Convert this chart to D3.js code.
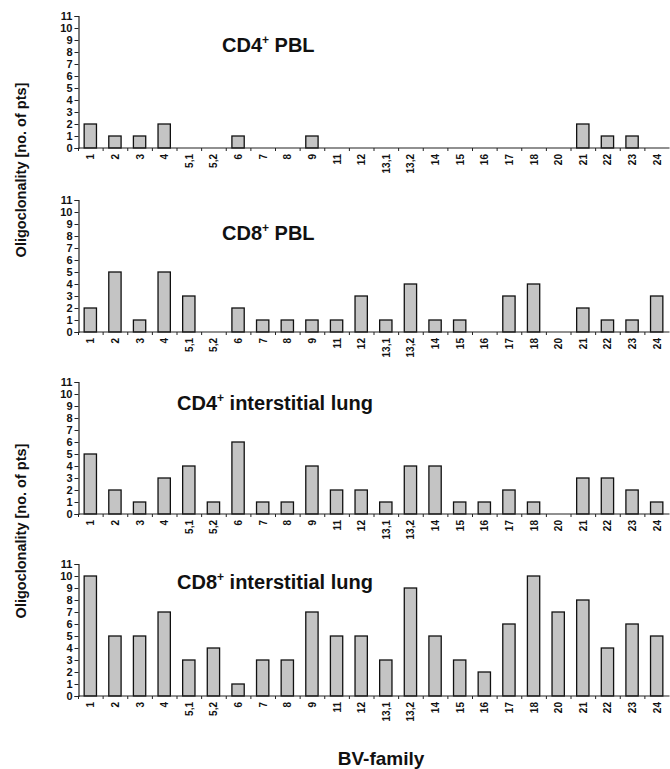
<!DOCTYPE html>
<html>
<head>
<meta charset="utf-8">
<script src="https://cdn.jsdelivr.net/npm/d3@7"></script>
<style>
  body { margin: 0; background: #fff; }
  svg { font-family: "Liberation Sans", Arial, sans-serif; }
</style>
</head>
<body>
<svg id="chart" width="670" height="769"></svg>
<script>
// BV-families on the x axis
const families = ["1", "2", "3", "4", "5,1", "5,2", "6", "7", "8", "9", "11", "12", "13,1", "13,2",
                  "14", "15", "16", "17", "18", "20", "21", "22", "23", "24"];
const yTicks = [0, 1, 2, 3, 4, 5, 6, 7, 8, 9, 10, 11];

// oligoclonality (no. of patients) per family
const cd4PBL  = [2, 1, 1, 2, 0, 0, 1, 0, 0, 1, 0, 0, 0, 0, 0, 0, 0, 0, 0, 0, 2, 1, 1, 0];
const cd8PBL  = [2, 5, 1, 5, 3, 0, 2, 1, 1, 1, 1, 3, 1, 4, 1, 1, 0, 3, 4, 0, 2, 1, 1, 3];
const cd4Lung = [5, 2, 1, 3, 4, 1, 6, 1, 1, 4, 2, 2, 1, 4, 4, 1, 1, 2, 1, 0, 3, 3, 2, 1];
const cd8Lung = [10, 5, 5, 7, 3, 4, 1, 3, 3, 7, 5, 5, 3, 9, 5, 3, 2, 6, 10, 7, 8, 4, 6, 5];

const panels = [
    { cd: "CD4", rest: " PBL", values: cd4PBL, top: 16, titleX: 222, titleY: 52 },
    { cd: "CD8", rest: " PBL", values: cd8PBL, top: 200, titleX: 222, titleY: 240 },
    { cd: "CD4", rest: " interstitial lung", values: cd4Lung, top: 382, titleX: 177, titleY: 410 },
    { cd: "CD8", rest: " interstitial lung", values: cd8Lung, top: 564, titleX: 177, titleY: 589 }
];

const svg = d3.select("#chart");
const left = 78.5, right = 669.5, plotH = 132;

const x = d3.scaleBand()
    .domain(families)
    .range([left, right])
    .paddingInner(0)
    .paddingOuter(0);

const barW = x.bandwidth() * 0.5;

panels.forEach(p => {
    const y = d3.scaleLinear().domain([0, 11]).range([p.top + plotH, p.top]);
    const g = svg.append("g");

    // bars
    g.selectAll("rect")
        .data(p.values.map((v, i) => ({ fam: families[i], v })).filter(d => d.v > 0))
        .enter()
        .append("rect")
        .attr("x", d => x(d.fam) + (x.bandwidth() - barW) / 2 - 0.5)
        .attr("y", d => y(d.v))
        .attr("width", barW)
        .attr("height", d => y(0) - y(d.v))
        .attr("fill", "#c4c4c4")
        .attr("stroke", "#111")
        .attr("stroke-width", 1.3);

    // y axis
    const yAxis = g.append("g")
        .attr("transform", `translate(${left},0)`)
        .call(d3.axisLeft(y).tickValues(yTicks).tickSize(4).tickPadding(2).tickFormat(d3.format("d")));
    yAxis.select(".domain").attr("stroke", "#222").attr("stroke-width", 1.2);
    yAxis.selectAll(".tick line").attr("stroke", "#222");
    yAxis.selectAll("text")
        .attr("font-size", 11)
        .attr("font-weight", "bold")
        .attr("font-family", "'Liberation Sans', Arial, sans-serif")
        .attr("fill", "#111");

    // x axis line with ticks at category boundaries
    const base = y(0);
    g.append("line")
        .attr("x1", left).attr("x2", right)
        .attr("y1", base).attr("y2", base)
        .attr("stroke", "#222").attr("stroke-width", 1.2);
    g.selectAll(".bound")
        .data(families)
        .enter()
        .append("line")
        .attr("x1", d => x(d)).attr("x2", d => x(d))
        .attr("y1", base).attr("y2", base + 3)
        .attr("stroke", "#222");

    // rotated family labels
    g.selectAll(".fam")
        .data(families)
        .enter()
        .append("text")
        .attr("transform", d => `translate(${x(d) + x.bandwidth() / 2 + 3.5},${base + 6}) rotate(-90)`)
        .attr("text-anchor", "end")
        .attr("font-size", 10)
        .attr("font-weight", "bold")
        .attr("fill", "#111")
        .text(d => d);

    // panel title
    const t = g.append("text")
        .attr("x", p.titleX)
        .attr("y", p.titleY)
        .attr("font-size", 20)
        .attr("font-weight", "bold")
        .attr("fill", "#111");
    t.append("tspan").text(p.cd);
    t.append("tspan").attr("dy", -8).attr("font-size", 12).text("+");
    t.append("tspan").attr("dy", 8).text(p.rest);
});

// y axis titles
[170, 531].forEach(cy => {
    svg.append("text")
        .attr("transform", `translate(26,${cy}) rotate(-90)`)
        .attr("text-anchor", "middle")
        .attr("font-size", 14.5)
        .attr("font-weight", "bold")
        .attr("fill", "#111")
        .text("Oligoclonality [no. of pts]");
});

// x axis title
svg.append("text")
    .attr("x", 381)
    .attr("y", 765)
    .attr("text-anchor", "middle")
    .attr("font-size", 19)
    .attr("font-weight", "bold")
    .attr("fill", "#111")
    .text("BV-family");
</script>
</body>
</html>
